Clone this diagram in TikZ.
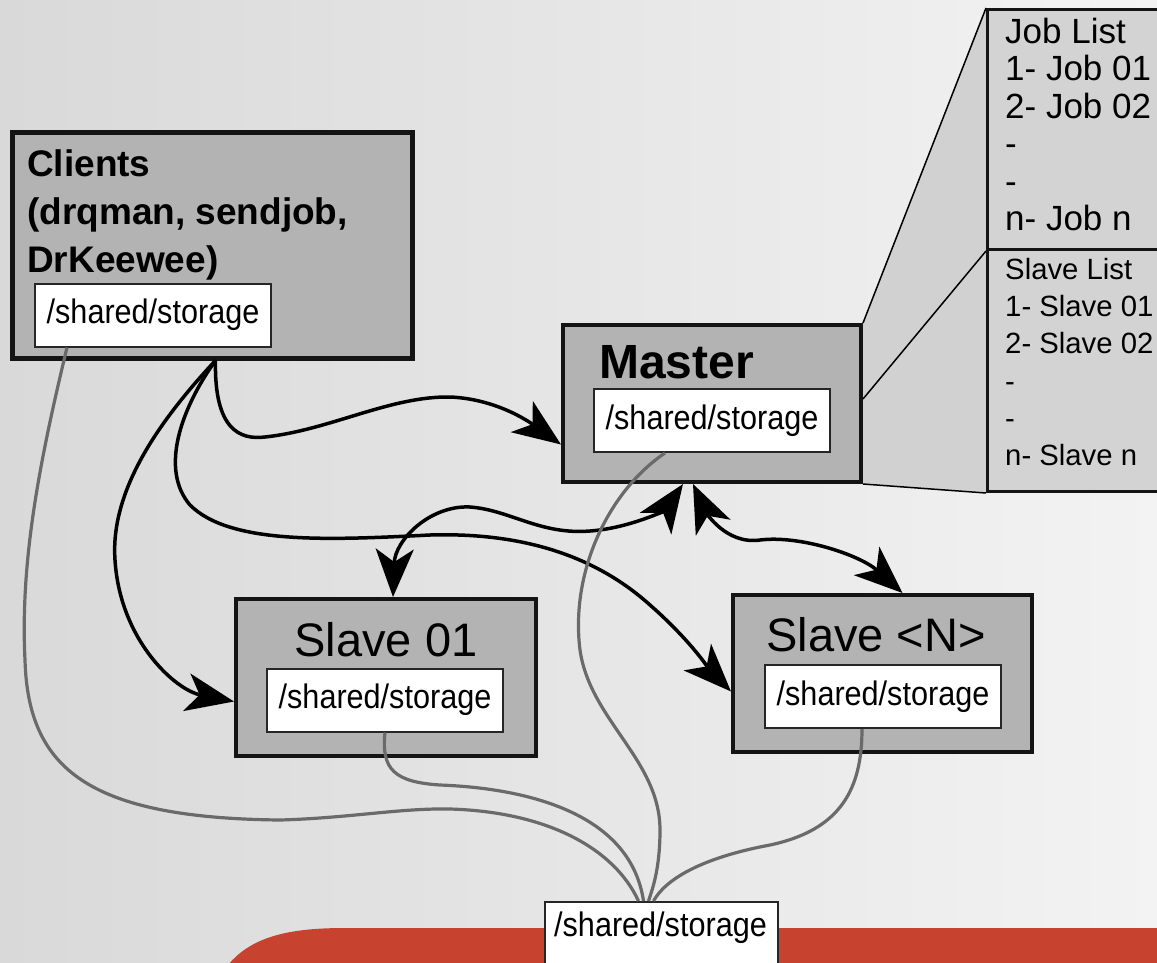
\documentclass[tikz,border=0pt]{standalone}
\usepackage{fontspec}
\setmainfont{Liberation Sans}
\newfontfamily\storefont{Liberation Sans}[FakeStretch=0.9]
\usetikzlibrary{arrows.meta,calc}
\definecolor{boxgray}{HTML}{B3B3B3}
\definecolor{listgray}{HTML}{D3D3D3}
\definecolor{wire}{HTML}{6A6A6A}
\definecolor{redbar}{HTML}{C8432F}
\definecolor{bgA}{HTML}{D9D9D9}
\definecolor{bgB}{HTML}{EBEBEB}
\definecolor{bgC}{HTML}{F3F3F3}
\begin{document}
\begin{tikzpicture}[x=1pt,y=-1pt,
  machine/.style={draw=black!92, fill=boxgray, line width=4pt, inner sep=0pt},
  storebox/.style={draw=black!85, fill=white, line width=2pt, minimum width=236pt, minimum height=63pt, inner sep=0pt, font=\storefont\fontsize{34}{40}\selectfont},
  listbox/.style={draw=black!92, fill=listgray, line width=3pt, inner sep=0pt, anchor=north west, minimum width=190pt},
  tip/.tip={Stealth[length=48pt,width=38pt,inset=13pt]},
  link/.style={line width=3.5pt, black, -tip},
  dlink/.style={line width=3.5pt, black, tip-tip},
  wireline/.style={line width=3.2pt, wire},
  calloutline/.style={line width=1.5pt, black},
  title/.style={inner sep=0pt, font=\fontsize{47}{50}\selectfont},
]
\clip (0,0) rectangle (1157,962);
% background
\shade[left color=bgA, middle color=bgB, right color=bgC] (0,0) rectangle (1157,962);
\fill[redbar] (228,965) .. controls (252,936) and (290,928) .. (345,928) -- (1160,928) -- (1160,965) -- cycle;

% boxes
\node (clients) [machine, line width=5pt, minimum width=400pt, minimum height=226pt] at (212.5,245) {};
\node (master) [machine, minimum width=298pt, minimum height=157pt] at (712,403.5) {};
\node (slave1) [machine, minimum width=300pt, minimum height=157pt] at (386,677.5) {};
\node (slaveN) [machine, minimum width=299pt, minimum height=157pt] at (882.5,673.5) {};

% callout to lists
\node (jobs) [listbox, minimum height=240pt] at (986,8) {};
\node (slaves) [listbox, minimum height=242pt] at (986,248) {};
\fill[listgray!105] (master.north east) -- (jobs.north west) -- (slaves.south west) -- (master.south east) -- cycle;
\draw[calloutline] (master.north east) -- (jobs.north west);
\draw[calloutline] ($(master.north east)+(0,76)$) -- (jobs.south west);
\draw[calloutline] (master.south east) -- (slaves.south west);
\node (jobs) [listbox, minimum height=240pt] at (986,8) {};
\node (slaves) [listbox, minimum height=242pt] at (986,248) {};
\node (joblist) [anchor=north west, inner sep=0pt, align=left, font=\fontsize{35}{37.4}\selectfont] at (1005,18) {Job List\\1- Job 01\\2- Job 02\\-\\-\\n- Job n};
\node (slavelist) [anchor=north west, inner sep=0pt, align=left, font=\fontsize{29.3}{37.2}\selectfont] at (1005,258) {Slave List\\1- Slave 01\\2- Slave 02\\-\\-\\n- Slave n};

% titles
\node (clientstext) [anchor=north west, inner sep=0pt, align=left, font=\bfseries\fontsize{37}{48}\selectfont] at (27,149) {Clients\\(drqman, sendjob,\\DrKeewee)};
\node (mastertext) [anchor=base west, inner sep=0pt, font=\bfseries\fontsize{48}{50}\selectfont] at (599,378) {Master};
\node (s1text) [title, anchor=base] at (386,656) {Slave 01};
\node (sNtext) [title, anchor=base] at (876,651) {Slave <N>};

% storage boxes
\node (cin) [storebox] at (153,315) {/shared/storage};
\node (min) [storebox] at (712,420.5) {/shared/storage};
\node (s1in) [storebox] at (385,700) {/shared/storage};
\node (sNin) [storebox] at (883,696.5) {/shared/storage};

% black connectors
\draw[link] ($(clients.south)+(3,0)$) .. controls (214,430) and (240,440) .. (265,437) .. controls (330,430) and (390,396) .. (450,397) .. controls (500,399) and (535,426) .. ($(master.west)+(0,41)$);
\draw[link] ($(clients.south)+(3,0)$) .. controls (160,420) and (110,490) .. (115,560) .. controls (120,640) and (175,690) .. ($(slave1.west)+(0,24)$);
\draw[link] ($(clients.south)+(3,0)$) .. controls (180,410) and (160,470) .. (190,505) .. controls (230,545) and (330,540) .. (430,535) .. controls (530,532) and (600,560) .. (650,605) .. controls (690,640) and (710,670) .. ($(slaveN.west)+(0,18)$);
\draw[dlink] ($(slave1.north)+(7,0)$) .. controls (395,540) and (430,505) .. (470,507) .. controls (510,510) and (540,535) .. (590,531) .. controls (630,528) and (665,510) .. ($(master.south)+(-29,0)$);
\draw[dlink] ($(master.south)+(-19,0)$) .. controls (705,510) and (725,545) .. (760,540) .. controls (800,535) and (860,555) .. ($(slaveN.north)+(20,0)$);

% shared storage wires
\node (bottom) [storebox, minimum width=233pt, minimum height=70pt] at (661.5,937) {};
\draw[wireline] ($(cin.south)+(-86,0)$) .. controls (40,460) and (20,560) .. (25,660) .. controls (28,770) and (90,818) .. (280,820) .. controls (350,818) and (400,808) .. (450,809) .. controls (550,812) and (615,850) .. ($(bottom.north)+(-23,0)$);
\draw[wireline] (s1in.south) .. controls (381,770) and (395,782) .. (440,785) .. controls (520,788) and (630,810) .. ($(bottom.north)+(-18,0)$);
\draw[wireline] ($(min.south)+(-47,0)$) .. controls (610,490) and (570,570) .. (580,650) .. controls (590,720) and (660,760) .. (660,830) .. controls (660,870) and (652,890) .. ($(bottom.north)+(-13,0)$);
\draw[wireline] ($(sNin.south)+(-21,0)$) .. controls (862,790) and (840,830) .. (770,845) .. controls (700,858) and (665,880) .. ($(bottom.north)+(-8,0)$);
\node (bottomtext) [inner sep=0pt, font=\storefont\fontsize{34}{40}\selectfont] at (660.5,928) {/shared/storage};
\end{tikzpicture}
\end{document}
